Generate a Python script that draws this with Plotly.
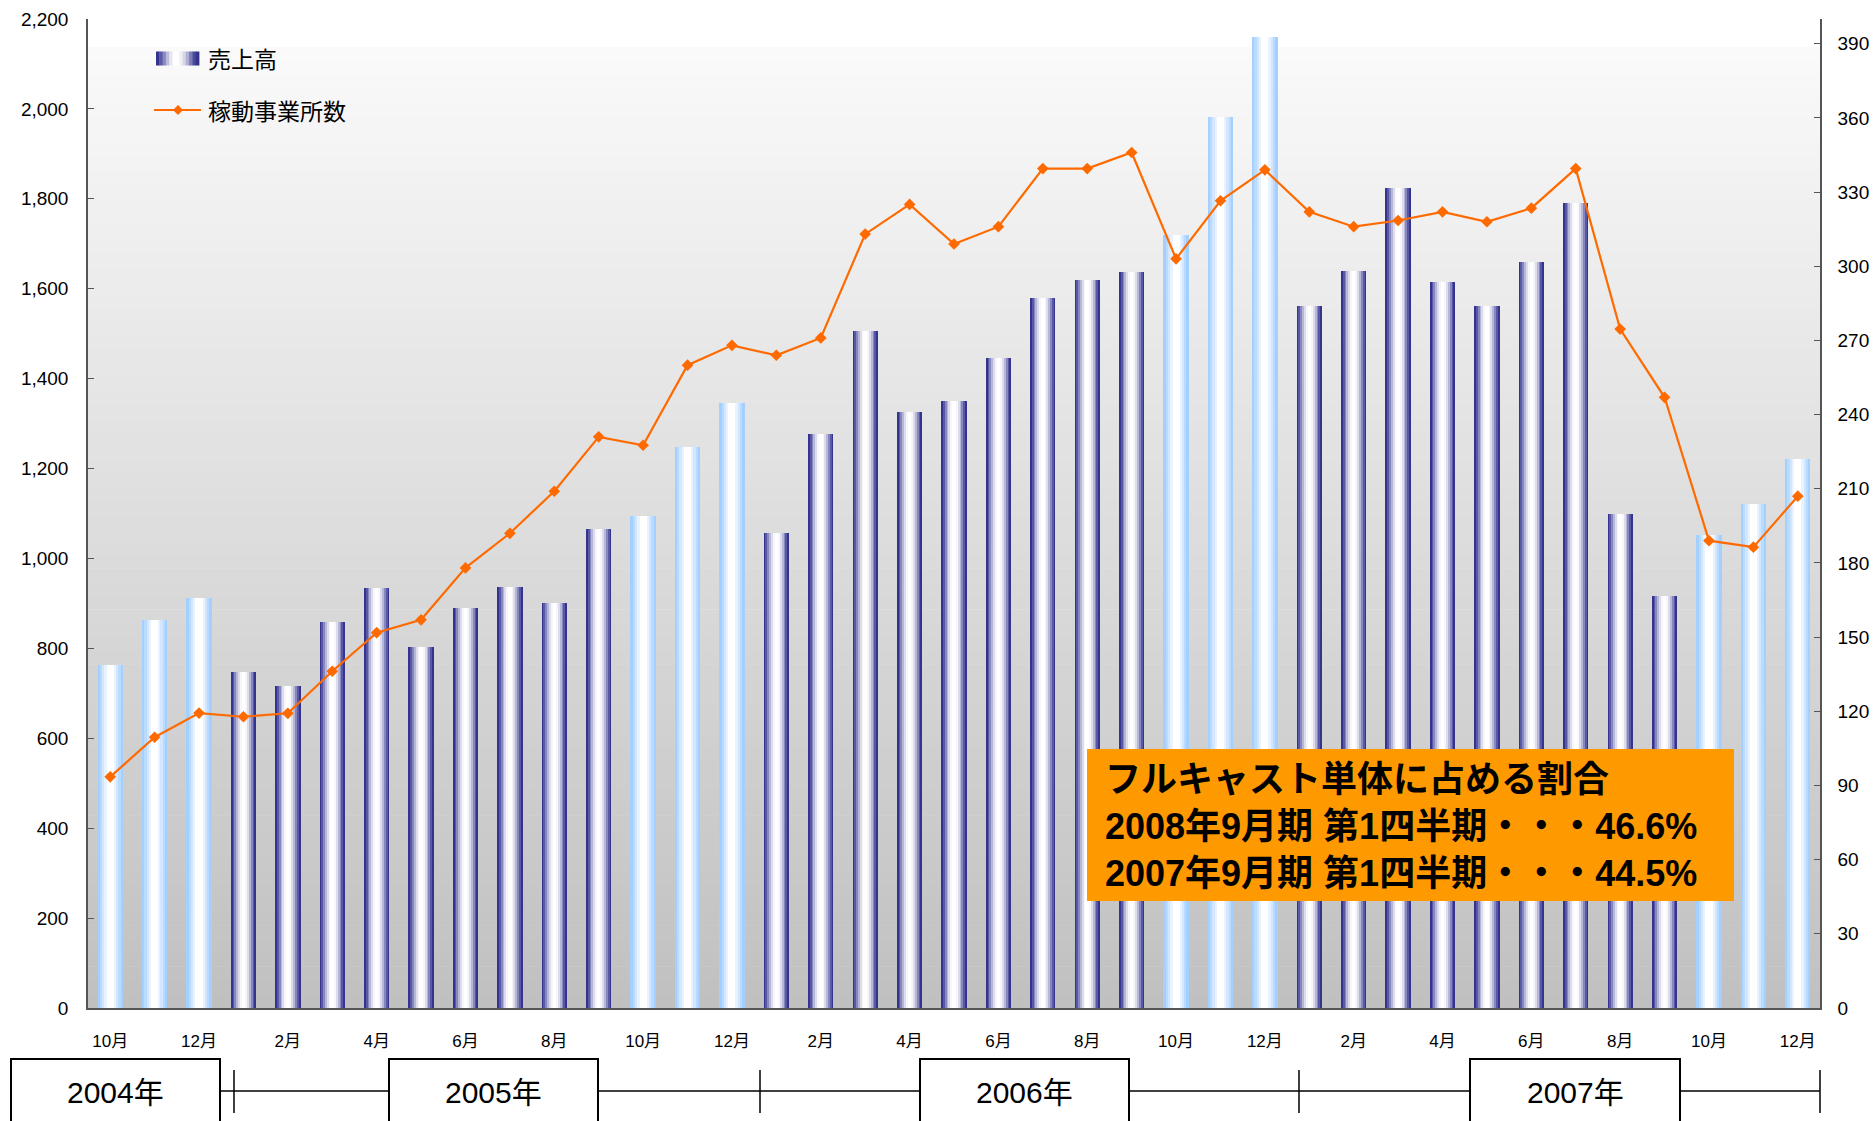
import plotly.graph_objects as go

# ---------------- data ----------------
months = ["10月", "11月", "12月",
          "1月", "2月", "3月", "4月", "5月", "6月", "7月", "8月", "9月", "10月", "11月", "12月",
          "1月", "2月", "3月", "4月", "5月", "6月", "7月", "8月", "9月", "10月", "11月", "12月",
          "1月", "2月", "3月", "4月", "5月", "6月", "7月", "8月", "9月", "10月", "11月", "12月"]
years = ["2004年", "2005年", "2006年", "2007年"]
sales = [762, 862, 911, 748, 716, 858, 935, 804, 889, 937, 900, 1065,
         1095, 1249, 1345, 1057, 1276, 1507, 1326, 1350, 1446, 1579, 1619, 1638,
         1720, 1981, 2160, 1561, 1640, 1824, 1614, 1561, 1659, 1790, 1100, 916,
         1052, 1121, 1222]
offices = [93.5, 109.5, 119.3, 117.8, 119.2, 136.2, 151.8, 157, 178, 192, 209, 231,
           227.6, 260, 268, 264, 271, 313, 325, 309, 316, 339.5, 339.5, 346,
           303, 326.5, 339, 322, 316, 318.5, 322, 318, 323.5, 339.5, 274.6, 247,
           189, 186.4, 207]
left_ticks = list(range(0, 2201, 200))
right_ticks = list(range(0, 391, 30))
note_lines = ["フルキャスト単体に占める割合",
              "2008年9月期 第1四半期・・・46.6%",
              "2007年9月期 第1四半期・・・44.5%"]
legend_names = ["売上高", "稼動事業所数"]

# ---------------- helpers ----------------
W_PX, H_PX = 1876, 1121
ML, MR, MT, MB = 88, 56, 19, 113
PW, PH = W_PX - ML - MR, H_PX - MT - MB


def px2x(x):
    return (x - ML) / PW


def px2y(y):
    return (H_PX - MB - y) / PH


x_idx = list(range(len(months)))
is_q1 = [m in ("10月", "11月", "12月") for m in months]

fig = go.Figure()

BAR_W = 0.57
dark_layers = [(1.00, "#34348f"), (0.86, "#5858a6"), (0.72, "#8787bf"),
               (0.58, "#b6b6d7"), (0.44, "#dcdcec"), (0.28, "#f6f6fb"), (0.14, "#ffffff")]
light_layers = [(1.00, "#a4d0ff"), (0.82, "#b9dbff"), (0.64, "#d1e7ff"),
                (0.46, "#e8f3ff"), (0.28, "#ffffff")]

dark_vals = [v if not q else None for v, q in zip(sales, is_q1)]
light_vals = [v if q else None for v, q in zip(sales, is_q1)]

for frac, col in dark_layers:
    fig.add_trace(go.Bar(x=x_idx, y=dark_vals, width=BAR_W * frac,
                         marker=dict(color=col, line=dict(width=0)),
                         showlegend=False, hoverinfo="skip"))
for frac, col in light_layers:
    fig.add_trace(go.Bar(x=x_idx, y=light_vals, width=BAR_W * frac,
                         marker=dict(color=col, line=dict(width=0)),
                         showlegend=False, hoverinfo="skip"))

fig.add_trace(go.Scatter(x=x_idx, y=offices, yaxis="y2", mode="lines+markers",
                         line=dict(color="#ff6a00", width=2.2),
                         marker=dict(symbol="diamond", size=9, color="#ff6a00"),
                         showlegend=False, hoverinfo="skip"))

shapes = []
# plot-area vertical gradient background
N = 70
top_p = px2y(47)
for i in range(N):
    y0 = top_p * i / N
    y1 = top_p * (i + 1) / N + 0.0005
    t = (i + 0.5) / N
    g = int(round(192 + (250 - 192) * t))
    shapes.append(dict(type="rect", xref="paper", yref="paper", x0=0, x1=1, y0=y0, y1=min(y1, top_p),
                       fillcolor=f"rgb({g},{g},{g})", line=dict(width=0), layer="below"))

# legend swatch (gradient)
sw_cols = ["#34348f", "#5a5aa7", "#8a8ac1", "#bdbddb", "#e6e6f2", "#ffffff", "#ffffff",
           "#f0f0f6", "#d6d6e8", "#b0b0d2", "#7c7cb8", "#4a4a9c", "#34348f"]
sx0, sx1 = 156, 199
n = len(sw_cols)
for i, c in enumerate(sw_cols):
    a = sx0 + (sx1 - sx0) * i / n
    b = sx0 + (sx1 - sx0) * (i + 1) / n + 0.4
    shapes.append(dict(type="rect", xref="paper", yref="paper", x0=px2x(a), x1=px2x(b),
                       y0=px2y(65.5), y1=px2y(51.5), fillcolor=c, line=dict(width=0), layer="above"))
# legend line + diamond
shapes.append(dict(type="line", xref="paper", yref="paper", x0=px2x(154), x1=px2x(201),
                   y0=px2y(110), y1=px2y(110), line=dict(color="#ff6a00", width=2.2)))
cx, cy, r = 178, 110, 5
shapes.append(dict(type="path", xref="paper", yref="paper",
                   path=f"M {px2x(cx)} {px2y(cy - r)} L {px2x(cx + r)} {px2y(cy)} "
                        f"L {px2x(cx)} {px2y(cy + r)} L {px2x(cx - r)} {px2y(cy)} Z",
                   fillcolor="#ff6a00", line=dict(width=0)))

# orange note box
shapes.append(dict(type="rect", xref="paper", yref="paper", x0=px2x(1087), x1=px2x(1734),
                   y0=px2y(901), y1=px2y(749), fillcolor="#ff9900", line=dict(width=0), layer="above"))

# year timeline
line_y = px2y(1091)
shapes.append(dict(type="line", xref="paper", yref="paper", x0=px2x(220), x1=px2x(1820),
                   y0=line_y, y1=line_y, line=dict(color="black", width=1.5)))
for tx in [234, 760, 1299, 1820]:
    shapes.append(dict(type="line", xref="paper", yref="paper", x0=px2x(tx), x1=px2x(tx),
                       y0=px2y(1070), y1=px2y(1113), line=dict(color="black", width=1.5)))
year_boxes = [(11, 220), (389, 598), (920, 1129), (1470, 1680)]
annotations = []
for (a, b), ylab in zip(year_boxes, years):
    shapes.append(dict(type="rect", xref="paper", yref="paper", x0=px2x(a), x1=px2x(b),
                       y0=px2y(1135), y1=px2y(1059), fillcolor="white",
                       line=dict(color="black", width=2)))
    annotations.append(dict(x=px2x((a + b) / 2), y=px2y(1092), xref="paper", yref="paper",
                            text=ylab, showarrow=False, xanchor="center", yanchor="middle",
                            font=dict(family="Liberation Sans, Noto Sans CJK JP", size=30, color="black")))

# legend texts
annotations.append(dict(x=px2x(206), y=px2y(58.5), xref="paper", yref="paper", text=legend_names[0],
                        showarrow=False, xanchor="left", yanchor="middle",
                        font=dict(family="Noto Sans CJK JP", size=23, color="black")))
annotations.append(dict(x=px2x(206), y=px2y(110), xref="paper", yref="paper", text=legend_names[1],
                        showarrow=False, xanchor="left", yanchor="middle",
                        font=dict(family="Noto Sans CJK JP", size=23, color="black")))

# note text (single block, three lines)
annotations.append(dict(x=px2x(1103), y=px2y(826), xref="paper", yref="paper",
                        text="<br>".join(f"<b>{s}</b>" for s in note_lines),
                        showarrow=False, xanchor="left", yanchor="middle", align="left",
                        font=dict(family="Liberation Sans, Noto Sans CJK JP", size=36, color="black")))

tick_font = dict(family="Liberation Sans, Noto Sans CJK JP", size=19, color="black")

fig.update_layout(
    width=W_PX, height=H_PX, autosize=False,
    margin=dict(l=ML, r=MR, t=MT, b=MB, pad=0, autoexpand=False),
    paper_bgcolor="white", plot_bgcolor="white",
    barmode="overlay", bargap=0,
    showlegend=False,
    shapes=shapes, annotations=annotations,
    xaxis=dict(range=[-0.5, len(months) - 0.5], tickmode="array",
               tickvals=x_idx[::2], ticktext=months[::2], ticks="",
               ticklabelstandoff=17, automargin=False,
               tickfont=dict(family="Liberation Sans, Noto Sans CJK JP", size=17, color="black"),
               showline=True, linecolor="#555555", linewidth=1.5, showgrid=False, zeroline=False),
    yaxis=dict(range=[0, 2200], tickmode="array", tickvals=left_ticks,
               ticktext=[f"{v:,}" for v in left_ticks], ticks="inside", ticklen=6,
               tickcolor="#555555", ticklabelstandoff=14, tickfont=tick_font, automargin=False,
               showline=True, linecolor="#555555", linewidth=1.5, showgrid=False, zeroline=False),
    yaxis2=dict(range=[0, 400], overlaying="y", side="right", tickmode="array",
                tickvals=right_ticks, ticks="inside", ticklen=6, tickcolor="#555555",
                ticklabelstandoff=12, tickfont=tick_font, automargin=False,
                showline=True, linecolor="#555555", linewidth=1.5, showgrid=False, zeroline=False),
)

fig.write_html("out.html", config={"displayModeBar": False},
               post_script="document.body.style.margin='0';document.body.style.overflow='hidden';")
